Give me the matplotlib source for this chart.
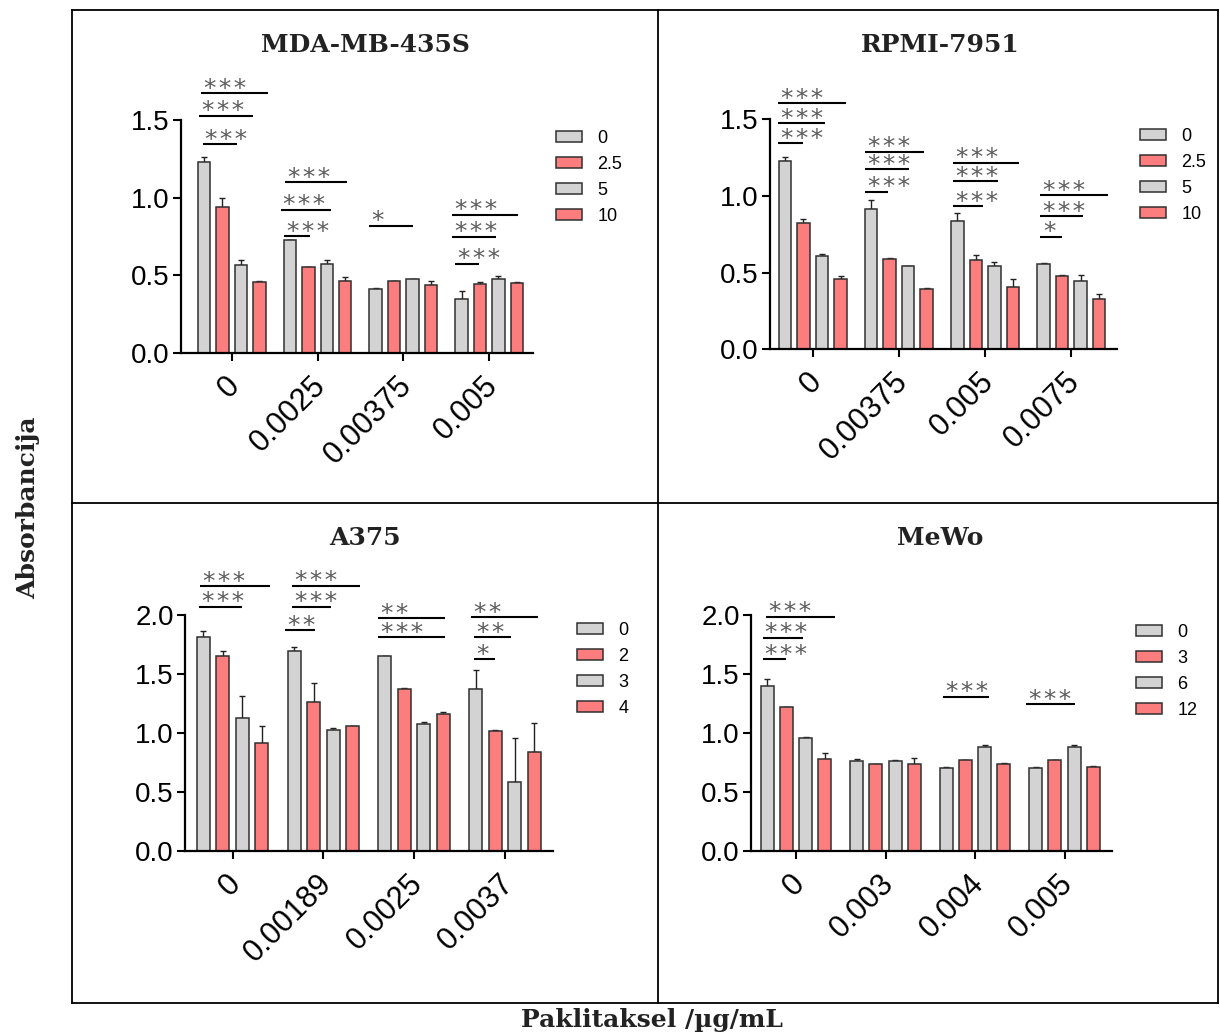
import matplotlib
matplotlib.use("Agg")
import matplotlib.pyplot as plt
from matplotlib.lines import Line2D
from matplotlib.transforms import ScaledTranslation
import numpy as np

# ---- data -------------------------------------------------------------
titles = ["MDA-MB-435S", "RPMI-7951", "A375", "MeWo"]

dose_labels = [
    ["0", "0.0025", "0.00375", "0.005"],
    ["0", "0.00375", "0.005", "0.0075"],
    ["0", "0.00189", "0.0025", "0.0037"],
    ["0", "0.003", "0.004", "0.005"],
]

series_labels = [
    ["0", "2.5", "5", "10"],
    ["0", "2.5", "5", "10"],
    ["0", "2", "3", "4"],
    ["0", "3", "6", "12"],
]

# mean absorbance: rows = paclitaxel dose group, cols = series
mda_mean = [[1.228, 0.938, 0.569, 0.459],
            [0.726, 0.552, 0.573, 0.464],
            [0.410, 0.462, 0.474, 0.436],
            [0.346, 0.442, 0.478, 0.449]]
mda_err = [[0.036, 0.058, 0.028, 0.006],
           [0.004, 0.004, 0.024, 0.023],
           [0.010, 0.004, 0.003, 0.026],
           [0.051, 0.015, 0.015, 0.010]]

rpmi_mean = [[1.229, 0.825, 0.610, 0.456],
             [0.912, 0.586, 0.541, 0.393],
             [0.838, 0.582, 0.545, 0.406],
             [0.556, 0.480, 0.443, 0.330]]
rpmi_err = [[0.026, 0.024, 0.008, 0.020],
            [0.059, 0.009, 0.003, 0.004],
            [0.048, 0.035, 0.026, 0.052],
            [0.004, 0.006, 0.043, 0.030]]

a375_mean = [[1.811, 1.655, 1.126, 0.914],
             [1.693, 1.262, 1.025, 1.059],
             [1.650, 1.375, 1.076, 1.161],
             [1.373, 1.019, 0.583, 0.840]]
a375_err = [[0.057, 0.043, 0.187, 0.145],
            [0.034, 0.159, 0.019, 0.003],
            [0.004, 0.004, 0.020, 0.019],
            [0.158, 0.006, 0.376, 0.241]]

mewo_mean = [[1.401, 1.217, 0.957, 0.778],
             [0.764, 0.736, 0.761, 0.736],
             [0.705, 0.767, 0.880, 0.738],
             [0.705, 0.767, 0.880, 0.713]]
mewo_err = [[0.059, 0.003, 0.011, 0.054],
            [0.011, 0.003, 0.006, 0.053],
            [0.003, 0.003, 0.014, 0.003],
            [0.003, 0.003, 0.014, 0.003]]

# significance bars: (x start, x end, height, label) on the group axis
mda_sig = [(-0.358, 0.423, 1.672, "***"), (-0.381, 0.248, 1.528, "***"),
           (-0.337, 0.058, 1.344, "***"),
           (0.621, 1.344, 1.099, "***"), (0.571, 1.154, 0.923, "***"),
           (0.610, 0.913, 0.755, "***"),
           (1.600, 2.110, 0.820, "*"),
           (2.564, 3.340, 0.891, "***"), (2.564, 3.077, 0.749, "***"),
           (2.600, 2.877, 0.575, "***")]
rpmi_sig = [(-0.403, 0.387, 1.601, "***"), (-0.403, 0.143, 1.472, "***"),
            (-0.403, -0.113, 1.342, "***"),
            (0.607, 1.292, 1.287, "***"), (0.607, 1.118, 1.172, "***"),
            (0.607, 0.874, 1.027, "***"),
            (1.629, 2.395, 1.216, "***"), (1.629, 2.151, 1.096, "***"),
            (1.629, 1.977, 0.934, "***"),
            (2.640, 3.420, 1.005, "***"), (2.640, 3.140, 0.870, "***"),
            (2.640, 2.890, 0.734, "*")]
a375_sig = [(-0.360, 0.410, 2.247, "***"), (-0.368, 0.099, 2.071, "***"),
            (0.657, 1.402, 2.250, "***"), (0.657, 1.080, 2.071, "***"),
            (0.576, 0.910, 1.873, "**"),
            (1.604, 2.339, 1.973, "**"), (1.604, 2.339, 1.811, "***"),
            (2.625, 3.363, 1.981, "**"), (2.658, 3.066, 1.811, "**"),
            (2.658, 2.894, 1.627, "*")]
mewo_sig = [(-0.336, 0.430, 1.986, "***"), (-0.373, 0.082, 1.808, "***"),
            (-0.373, -0.110, 1.627, "***"),
            (1.645, 2.156, 1.307, "***"),
            (2.573, 3.121, 1.245, "***")]

means = [mda_mean, rpmi_mean, a375_mean, mewo_mean]
errs = [mda_err, rpmi_err, a375_err, mewo_err]
sigs = [mda_sig, rpmi_sig, a375_sig, mewo_sig]
y_max = [1.5, 1.5, 2.0, 2.0]
y_ticks = [[0.0, 0.5, 1.0, 1.5], [0.0, 0.5, 1.0, 1.5],
           [0.0, 0.5, 1.0, 1.5, 2.0], [0.0, 0.5, 1.0, 1.5, 2.0]]

# ---- style -------------------------------------------------------------
GREY = "#d3d3d3"
SALMON = "#fb7d7d"
bar_colors = [GREY, SALMON, GREY, SALMON]
EDGE = "#303030"
SANS = ["Liberation Sans", "DejaVu Sans"]
SERIF = ["DejaVu Serif"]

W, H = 1220, 1032
fig = plt.figure(figsize=(W / 100, H / 100), dpi=100)


def px_rect(x0, x1, y_top, y_bot):
    return [x0 / W, 1 - y_bot / H, (x1 - x0) / W, (y_bot - y_top) / H]


# axes boxes in pixels: (left, right, y of top tick, y of zero)
boxes = [(181, 533, 120, 353), (770, 1117, 119, 349.3),
         (185, 553, 615, 850.7), (751, 1112, 615, 850.7)]
xlims = [(-0.59, 3.51), (-0.496, 3.53), (-0.525, 3.53), (-0.503, 3.53)]
legend_anchor = [(556, 130), (1140, 128), (577, 622), (1136, 624)]
title_pos = [(365, 45), (940, 45), (365, 538), (940, 538)]

slot = 0.215
bar_w = 0.145

for p in range(4):
    l, r, yt, yb = boxes[p]
    ax = fig.add_axes(px_rect(l, r, yt, yb))
    m = np.array(means[p])
    e = np.array(errs[p])
    groups = np.arange(m.shape[0])
    for s in range(4):
        xs = groups + (s - 1.5) * slot
        ax.bar(xs, m[:, s], width=bar_w, color=bar_colors[s], edgecolor=EDGE,
               linewidth=1.1, label=series_labels[p][s], zorder=2)
        ax.errorbar(xs, m[:, s], yerr=[np.zeros(4), e[:, s]], fmt="none",
                    ecolor="#222222", elinewidth=1.0, capsize=2.5,
                    capthick=1.0, zorder=1)

    ax.set_xlim(*xlims[p])
    ax.set_ylim(0, y_max[p])
    ax.tick_params(axis="both", width=1.5, length=6, color="black")
    ax.tick_params(axis="y", pad=2)
    ax.set_yticks(y_ticks[p])
    ax.set_yticklabels([f"{v:.1f}" for v in y_ticks[p]], family=SANS,
                       fontsize=20)
    ax.set_xticks(groups)
    ax.set_xticklabels(dose_labels[p], family=SANS, fontsize=22,
                       rotation=45, ha="right", va="center",
                       rotation_mode="anchor")
    shift = ScaledTranslation(4 / 100, -15 / 100, fig.dpi_scale_trans)
    for lab in ax.get_xticklabels():
        lab.set_transform(lab.get_transform() + shift)
    for side in ("top", "right"):
        ax.spines[side].set_visible(False)
    for side in ("left", "bottom"):
        ax.spines[side].set_linewidth(1.6)

    # significance bars with star labels
    for x0, x1, yv, lab in sigs[p]:
        ax.plot([x0, x1], [yv, yv], color="black", lw=1.5, clip_on=False,
                solid_capstyle="butt", zorder=3)
        ax.annotate("\u200a".join(lab), xy=(x0, yv), xytext=(2, -2.0),
                    textcoords="offset points", ha="left", va="baseline",
                    fontsize=18, color="#5c5c5c", family=["DejaVu Sans"],
                    annotation_clip=False, zorder=4)

    lx, ly = legend_anchor[p]
    leg = ax.legend(loc="upper left",
                    bbox_to_anchor=(lx / W, 1 - ly / H),
                    bbox_transform=fig.transFigure, frameon=False,
                    prop={"family": SANS, "size": 13}, handlelength=1.45,
                    handleheight=0.55, handletextpad=0.85, labelspacing=0.5,
                    borderpad=0, borderaxespad=0)

    tx, ty = title_pos[p]
    fig.text(tx / W, 1 - ty / H, titles[p], ha="center", va="center",
             family=SERIF, fontweight="bold", fontsize=18, color="#222222")

# panel frame
frame_lw = 1.3
fx0, fx1, fy0, fy1, fxm, fym = 72, 1218, 10, 1003, 658, 503
segments = [((fx0, fy0), (fx1, fy0)), ((fx0, fy1), (fx1, fy1)),
            ((fx0, fy0), (fx0, fy1)), ((fx1, fy0), (fx1, fy1)),
            ((fxm, fy0), (fxm, fy1)), ((fx0, fym), (fx1, fym))]
for (a, b), (c, d) in segments:
    fig.add_artist(Line2D([a / W, c / W], [1 - b / H, 1 - d / H],
                          transform=fig.transFigure, color="black",
                          lw=frame_lw))

fig.text(28 / W, 1 - 508 / H, "Absorbancija", rotation=90, ha="center",
         va="center", family=SERIF, fontweight="bold", fontsize=18,
         color="#222222")
fig.text(652 / W, 1 - 1020 / H, "Paklitaksel /µg/mL", ha="center",
         va="center", family=SERIF, fontweight="bold", fontsize=18,
         color="#222222")

fig.savefig("out.png", dpi=100)
